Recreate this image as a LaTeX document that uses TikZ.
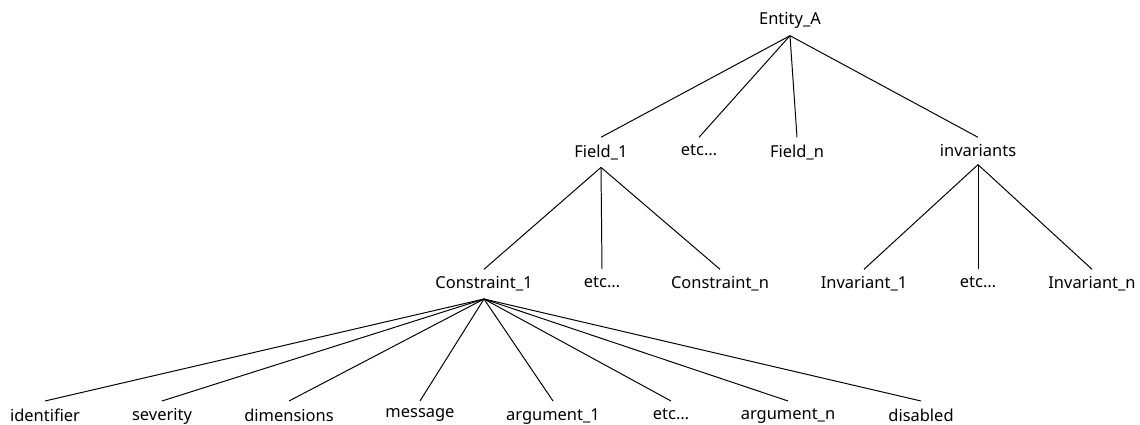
\documentclass[tikz,border=0pt]{standalone}
\usepackage{fontspec}
\setmainfont{Noto Sans}

\tikzset{
    leaf/.style={anchor=north},
    every node/.style={inner xsep=2pt,inner ysep=5pt,font=\fontsize{11.7pt}{14pt}\selectfont}
}

\begin{document}
\begin{tikzpicture}[x=0.025cm,y=-0.025cm,line width=0.7pt]
    \useasboundingbox (0,0) rectangle (1140,425);
    \node[anchor=south] (ent) at (790,35.7) {Entity\_A};
    \foreach \n/\x/\t in {f1/601/Field\_1,fetc/699/etc…,fn/797/Field\_n,inv/978/invariants}{
        \node[leaf] (\n) at (\x,137.3) {\t};
        \draw (ent.south) -- (\n.north);
    }
    \foreach \n/\x/\t in {c1/484/Constraint\_1,cetc/602/etc…,cn/720/Constraint\_n}{
        \node[leaf] (\n) at (\x,269.3) {\t};
        \draw (f1.south) -- (\n.north);
    }
    \foreach \n/\x/\t in {i1/864/Invariant\_1,ietc/978/etc…,in/1092/Invariant\_n}{
        \node[leaf] (\n) at (\x,269.3) {\t};
        \draw (inv.south) -- (\n.north);
    }
    \foreach \n/\x/\t in {id/45/identifier,sev/162/severity,dim/289/dimensions,msg/420/message,
                          a1/553/argument\_1,aetc/671/etc…,an/788/argument\_n,dis/921/disabled}{
        \node[leaf] (\n) at (\x,401) {\t};
        \draw (c1.south) -- (\n.north);
    }
\end{tikzpicture}
\end{document}
